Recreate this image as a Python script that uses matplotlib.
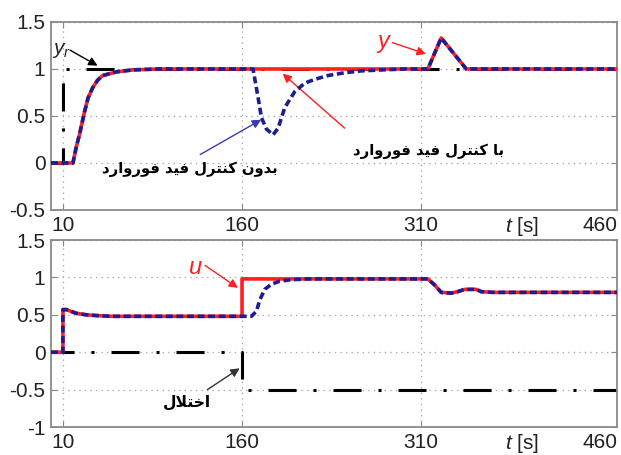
import matplotlib
matplotlib.use('Agg')
import matplotlib.pyplot as plt

plt.rcParams['font.family'] = ['Liberation Sans', 'DejaVu Sans']
plt.rcParams['mathtext.fontset'] = 'custom'
plt.rcParams['mathtext.it'] = 'Liberation Sans:italic'
plt.rcParams['mathtext.rm'] = 'Liberation Sans'
plt.rcParams['lines.scale_dashes'] = False

# ---- data ----
x_ticks = [10, 160, 310, 460]
x_labels = ['10', '160', '310', '460']

# top: output y
t_ref = [0, 10, 10, 474]
y_ref = [0, 0, 1, 1]

t_y_ff = [0, 18.4, 21, 24, 28.2, 31, 34.9, 39, 43.3, 55, 68.4, 90,
          315.6, 326.8, 347.8, 474]
y_ff = [0, 0, 0.16, 0.31, 0.55, 0.69, 0.80, 0.88, 0.93, 0.97, 0.99, 1.0,
        1.0, 1.33, 1.0, 1.0]

t_y_nff = [0, 18.4, 21, 24, 28.2, 31, 34.9, 39, 43.3, 55, 68.4, 90,
           169.2, 173.4, 176.3, 180.5, 186, 190.2, 195.8, 204.2, 212.6, 221,
           231.8, 246, 260, 276.8, 296, 315.6, 326.8, 347.8, 474]
y_nff = [0, 0, 0.16, 0.31, 0.55, 0.69, 0.80, 0.88, 0.93, 0.97, 0.99, 1.0,
         1.0, 0.70, 0.48, 0.36, 0.30, 0.37, 0.59, 0.76, 0.85, 0.89,
         0.93, 0.96, 0.98, 0.99, 1.0, 1.0, 1.33, 1.0, 1.0]

# bottom: control signal u and disturbance
t_u_ff = [0, 10, 10, 12.8, 21.2, 29.6, 38, 50, 160, 160, 315.6, 321.2,
          326.8, 335.2, 340.8, 346.4, 356.1, 360.3, 370, 474]
u_ff = [0, 0, 0.57, 0.57, 0.52, 0.50, 0.49, 0.48, 0.48, 0.98, 0.98, 0.90,
        0.80, 0.79, 0.81, 0.84, 0.84, 0.81, 0.80, 0.80]

t_u_nff = [0, 10, 10, 12.8, 21.2, 29.6, 38, 50, 167.9, 172.1, 174.9, 179,
           184.7, 191.6, 201.4, 215.3, 315.6, 321.2, 326.8, 335.2, 340.8,
           346.4, 356.1, 360.3, 370, 474]
u_nff = [0, 0, 0.57, 0.57, 0.52, 0.50, 0.49, 0.48, 0.48, 0.55, 0.70, 0.84,
         0.91, 0.95, 0.97, 0.98, 0.98, 0.90, 0.80, 0.79, 0.81, 0.84, 0.84,
         0.81, 0.80, 0.80]

t_dist = [0, 160, 160, 474]
d_dist = [0, 0, -0.5, -0.5]

top_yticks = [-0.5, 0, 0.5, 1, 1.5]
top_ylabels = ['-0.5', '0', '0.5', '1', '1.5']
bot_yticks = [-1, -0.5, 0, 0.5, 1, 1.5]
bot_ylabels = ['-1', '-0.5', '0', '0.5', '1', '1.5']

txt_without = 'بدون کنترل فید فوروارد'
txt_with = 'با کنترل فید فوروارد'
txt_dist = 'اختلال'

RED = '#ff1f1f'
BLUE = '#1c1c96'
DASHDOT = (20.2, 12.2, 2.2, 12.2)

# matplotlib has no arabic shaping: pick presentation forms, then reverse
FORMS = {
    '\u0627': ('\uFE8D', '\uFE8E', None, None),
    '\u0628': ('\uFE8F', '\uFE90', '\uFE91', '\uFE92'),
    '\u062A': ('\uFE95', '\uFE96', '\uFE97', '\uFE98'),
    '\u062E': ('\uFEA5', '\uFEA6', '\uFEA7', '\uFEA8'),
    '\u062F': ('\uFEA9', '\uFEAA', None, None),
    '\u0631': ('\uFEAD', '\uFEAE', None, None),
    '\u0641': ('\uFED1', '\uFED2', '\uFED3', '\uFED4'),
    '\u0643': ('\uFED9', '\uFEDA', '\uFEDB', '\uFEDC'),
    '\u0644': ('\uFEDD', '\uFEDE', '\uFEDF', '\uFEE0'),
    '\u0646': ('\uFEE5', '\uFEE6', '\uFEE7', '\uFEE8'),
    '\u0648': ('\uFEED', '\uFEEE', None, None),
    '\u064A': ('\uFEF1', '\uFEF2', '\uFEF3', '\uFEF4'),
    '\u06A9': ('\uFB8E', '\uFB8F', '\uFB90', '\uFB91'),
    '\u06CC': ('\uFBFC', '\uFBFD', '\uFBFE', '\uFBFF'),
}


def shape(text):
    out = []
    i = 0
    while i < len(text):
        c = text[i]
        if c not in FORMS:
            out.append(c)
            i += 1
            continue
        prev = text[i - 1] if i > 0 else None
        joins_prev = prev in FORMS and FORMS[prev][2] is not None
        if c == '\u0644' and i + 1 < len(text) and text[i + 1] == '\u0627':
            out.append('\uFEFC' if joins_prev else '\uFEFB')
            i += 2
            continue
        nxt = text[i + 1] if i + 1 < len(text) else None
        iso, fin, ini, med = FORMS[c]
        joins_next = ini is not None and nxt in FORMS
        if joins_prev and joins_next:
            out.append(med)
        elif joins_prev:
            out.append(fin)
        elif joins_next:
            out.append(ini)
        else:
            out.append(iso)
        i += 1
    return ''.join(reversed(out))


def style(ax, yticks, ylabels):
    ax.set_xlim(0, 474)
    ax.set_ylim(yticks[0], yticks[-1])
    ax.set_xticks(x_ticks)
    ax.set_xticklabels(x_labels)
    ax.set_yticks(yticks)
    ax.set_yticklabels(ylabels)
    ax.tick_params(direction='in', top=True, right=True, length=4, width=0.8,
                   color='#888888', labelsize=15, labelcolor='#222222', pad=4)
    ax.grid(True, linestyle=(0, (1, 3)), color='#a8a8a8', linewidth=0.9)
    for s in ax.spines.values():
        s.set_color('#8a8a8a')
        s.set_linewidth(1.3)
    last = ax.xaxis.get_major_ticks()[-1]
    last.tick1line.set_visible(False)
    last.tick2line.set_visible(False)
    last.gridline.set_visible(False)
    ax.text(0.832, -0.027, r'$t$ [s]', transform=ax.transAxes, ha='center',
            va='top', fontsize=15, color='#222222')


def arrow(ax, tip, tail, color):
    ax.annotate('', xy=tip, xytext=tail,
                arrowprops=dict(arrowstyle='-|>', color=color, lw=1.0,
                                mutation_scale=13, shrinkA=0, shrinkB=0))


fig = plt.figure(figsize=(6.21, 4.55), dpi=100)
ax1 = fig.add_axes([0.0821, 0.5385, 0.9114, 0.4132])
ax2 = fig.add_axes([0.0821, 0.0615, 0.9114, 0.411])

# top panel
ax1.plot(t_ref, y_ref, color='black', lw=2.2, ls=(0.7, DASHDOT), zorder=2)
ax1.plot(t_y_ff, y_ff, color=RED, lw=2.6, zorder=3)
ax1.plot(t_y_nff, y_nff, color=BLUE, lw=2.6, dashes=(5, 2.6), zorder=4)
style(ax1, top_yticks, top_ylabels)

ax1.text(9, 1.2, r'$y_r$', fontsize=15, ha='center', va='center', color='#222222')
arrow(ax1, (39, 1.035), (16, 1.2), 'black')
ax1.text(279, 1.27, r'$y$', fontsize=17, ha='center', va='center', color=RED)
arrow(ax1, (314, 1.16), (286, 1.28), RED)
ax1.text(116, -0.07, shape(txt_without), family='DejaVu Sans', weight='bold',
         fontsize=10.6, ha='center', va='center', color='black')
arrow(ax1, (176, 0.46), (125, 0.09), '#3a3ab4')
ax1.text(316, 0.125, shape(txt_with), family='DejaVu Sans', weight='bold',
         fontsize=10.6, ha='center', va='center', color='black')
arrow(ax1, (194, 0.95), (246, 0.37), RED)

# bottom panel
ax2.plot(t_dist, d_dist, color='black', lw=2.2, ls=(3.6, DASHDOT), zorder=2)
ax2.plot(t_u_ff, u_ff, color=RED, lw=2.6, zorder=3)
ax2.plot(t_u_nff, u_nff, color=BLUE, lw=2.6, dashes=(5, 2.6), zorder=4)
style(ax2, bot_yticks, bot_ylabels)

ax2.text(121, 1.12, r'$u$', fontsize=17, ha='center', va='center', color=RED)
arrow(ax2, (156.6, 0.86), (129, 1.16), RED)
ax2.text(114, -0.67, shape(txt_dist), family='DejaVu Sans', weight='bold',
         fontsize=11.2, ha='center', va='center', color='black')
arrow(ax2, (158, -0.215), (131, -0.5), '#333333')

fig.savefig('out.png', dpi=100)
